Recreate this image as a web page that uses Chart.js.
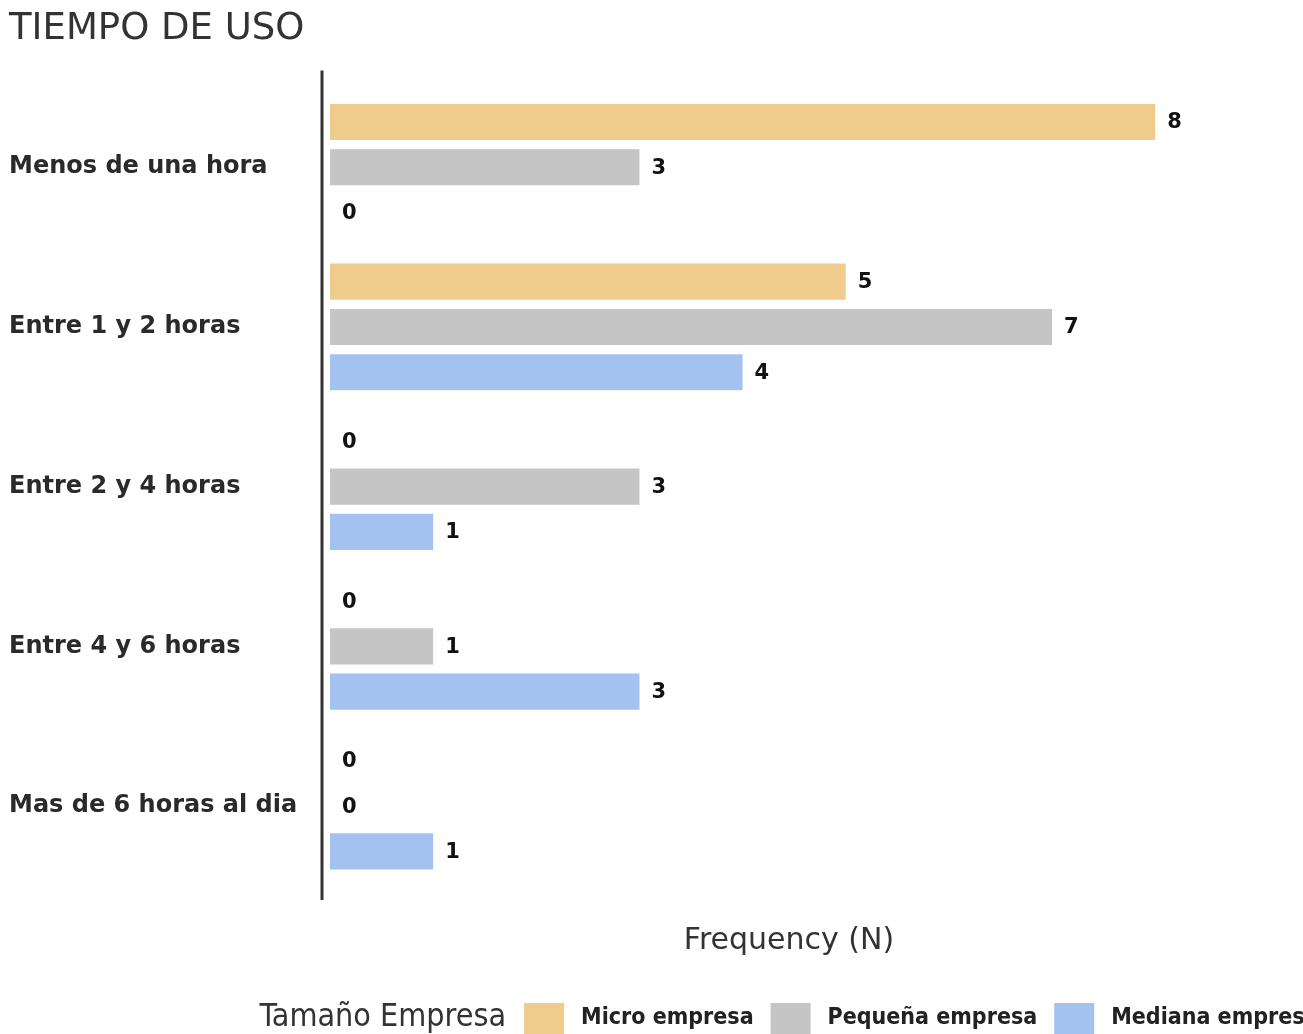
<!DOCTYPE html>
<html>
<head>
<meta charset="utf-8">
<script src="https://cdn.jsdelivr.net/npm/chart.js@4.4.1/dist/chart.umd.min.js"></script>
<style>
  html, body { margin: 0; padding: 0; background: #fff; overflow: hidden; }
  #chart { display: block; }
</style>
</head>
<body>
<canvas id="chart" width="1303" height="1034"></canvas>
<script>
// Data
const categories = ["Menos de una hora", "Entre 1 y 2 horas", "Entre 2 y 4 horas", "Entre 4 y 6 horas", "Mas de 6 horas al dia"];
const seriesNames = ["Micro empresa", "Pequeña empresa", "Mediana empresa"];
const microEmpresa = [8, 5, 0, 0, 0];
const pequenaEmpresa = [3, 7, 3, 1, 0];
const medianaEmpresa = [0, 4, 1, 3, 1];
const seriesColors = ["#F0CC8C", "#C5C5C5", "#A4C2F0"];

const legendTitle = "Tamaño Empresa";

// axis line, value labels and the inline legend
const extras = {
    id: "extras",
    afterDatasetsDraw(chart) {
        const ctx = chart.ctx;
        const area = chart.chartArea;
        ctx.save();
        ctx.strokeStyle = "#333";
        ctx.lineWidth = 3;
        ctx.beginPath();
        ctx.moveTo(area.left - 8, area.top - 17);
        ctx.lineTo(area.left - 8, area.bottom + 14);
        ctx.stroke();

        ctx.font = "bold 21px 'DejaVu Sans'";
        ctx.fillStyle = "#111";
        ctx.textAlign = "left";
        ctx.textBaseline = "middle";
        chart.data.datasets.forEach((ds, i) => {
            chart.getDatasetMeta(i).data.forEach((bar, j) => {
                ctx.fillText(String(ds.data[j]), bar.x + 12, bar.y + 1);
            });
        });
        ctx.restore();
    },
    afterDraw(chart) {
        const ctx = chart.ctx;
        const area = chart.chartArea;
        const cy = chart.height - 16;
        const titleFont = "32px 'DejaVu Sans Condensed', 'DejaVu Sans'";
        const labelFont = "bold 23px 'DejaVu Sans Condensed', 'DejaVu Sans'";
        ctx.save();
        ctx.textBaseline = "middle";
        ctx.textAlign = "left";
        ctx.font = titleFont;
        const titleW = ctx.measureText(legendTitle).width;
        ctx.font = labelFont;
        const labelW = seriesNames.map(n => ctx.measureText(n).width);
        let total = titleW;
        labelW.forEach((w, i) => { total += (i === 0 ? 18 : 17) + 40 + 17 + w; });
        let x = (area.left + area.right) / 2 - total / 2;

        ctx.fillStyle = "#333";
        ctx.font = titleFont;
        ctx.fillText(legendTitle, x, cy);
        x += titleW;
        seriesNames.forEach((name, i) => {
            x += i === 0 ? 18 : 17;
            ctx.fillStyle = seriesColors[i];
            ctx.fillRect(x, cy - 15, 40, 32);
            x += 40 + 17;
            ctx.fillStyle = "#222";
            ctx.font = labelFont;
            ctx.fillText(name, x, cy);
            x += labelW[i];
        });
        ctx.restore();
    }
};

const ctx = document.getElementById("chart").getContext("2d");
new Chart(ctx, {
    type: "bar",
    data: {
        labels: categories,
        datasets: [
            { label: seriesNames[0], data: microEmpresa, backgroundColor: seriesColors[0] },
            { label: seriesNames[1], data: pequenaEmpresa, backgroundColor: seriesColors[1] },
            { label: seriesNames[2], data: medianaEmpresa, backgroundColor: seriesColors[2] }
        ]
    },
    options: {
        indexAxis: "y",
        responsive: false,
        animation: false,
        devicePixelRatio: 1,
        datasets: {
            bar: { categoryPercentage: 0.85, barPercentage: 0.8, borderWidth: 0 }
        },
        layout: {
            padding: { left: 9, right: 55, top: 0, bottom: 71 }
        },
        plugins: {
            legend: { display: false },
            tooltip: { enabled: false },
            title: {
                display: true,
                text: "TIEMPO DE USO",
                align: "start",
                color: "#333",
                font: { family: "'DejaVu Sans'", size: 37, weight: "normal" },
                padding: { top: 7, bottom: 36 }
            }
        },
        scales: {
            x: {
                min: 0,
                max: 8.9,
                ticks: { display: false },
                grid: { display: false, drawTicks: false },
                border: { display: false },
                title: {
                    display: true,
                    text: "Frequency (N)",
                    color: "#333",
                    font: { family: "'DejaVu Sans'", size: 30 },
                    padding: { top: 37, bottom: 4 }
                }
            },
            y: {
                grid: { display: false },
                border: { display: false },
                ticks: {
                    crossAlign: "far",
                    color: "#2a2a2a",
                    font: { family: "'DejaVu Sans'", size: 24, weight: "bold" }
                },
                afterFit(scale) { scale.width = 321; }
            }
        }
    },
    plugins: [extras]
});
</script>
</body>
</html>
